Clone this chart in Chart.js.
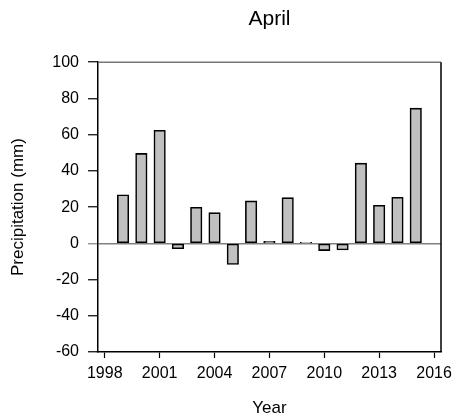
<!DOCTYPE html>
<html>

<head>
  <meta charset="utf-8">
  <title>April precipitation</title>
  <script src="https://cdnjs.cloudflare.com/ajax/libs/Chart.js/4.3.0/chart.umd.min.js"></script>
  <style>
    html,
    body {
      margin: 0;
      padding: 0;
      background: #fff;
    }

    canvas {
      display: block;
    }
  </style>
</head>

<body>
  <canvas id="chartJSContainer" width="456" height="417"></canvas>
  <script>
    // April precipitation by year (mm)
    var years = [1999, 2000, 2001, 2002, 2003, 2004, 2005, 2006, 2007, 2008, 2009, 2010, 2011, 2012, 2013, 2014, 2015];
    var precip = [26.8, 49.6, 62.4, -2.9, 19.9, 16.9, -11.6, 23.4, 1.0, 25.2, 0.5, -4.0, -3.6, 44.2, 21.0, 25.4, 74.6];
    var yearTicks = [1998, 2001, 2004, 2007, 2010, 2013, 2016];
    var precipTicks = [-60, -40, -20, 0, 20, 40, 60, 80, 100];

    var font = 'Liberation Sans, Arial, sans-serif';

    // top (grey) and right (black) sides of the plot frame
    var frame = {
      id: 'frame',
      afterDraw: function(chart) {
        var a = chart.chartArea, c = chart.ctx;
        c.save();
        c.lineWidth = 1.5;
        c.strokeStyle = '#777';
        c.beginPath();
        c.moveTo(a.left, a.top);
        c.lineTo(a.right, a.top);
        c.stroke();
        c.strokeStyle = '#000';
        c.beginPath();
        c.moveTo(a.right, a.top);
        c.lineTo(a.right, a.bottom);
        c.stroke();
        c.restore();
      }
    };

    var options = {
      type: 'bar',
      data: {
        datasets: [{
          data: years.map(function(y, i) { return { x: y, y: precip[i] }; }),
          backgroundColor: '#c0c0c0',
          borderColor: '#000',
          borderWidth: 1.6,
          borderSkipped: false,
          inflateAmount: 0.4,
          barPercentage: 0.62,
          categoryPercentage: 1
        }]
      },
      options: {
        responsive: false,
        animation: false,
        layout: { padding: { right: 15 } },
        plugins: {
          legend: { display: false },
          tooltip: { enabled: false },
          title: {
            display: true,
            text: 'April',
            fullSize: false,
            color: '#000',
            font: { family: font, size: 21, weight: 'normal' },
            padding: { top: 7, bottom: 30 }
          }
        },
        scales: {
          x: {
            type: 'linear',
            offset: false,
            min: 1997.63,
            max: 2016.38,
            afterBuildTicks: function(axis) {
              axis.ticks = yearTicks.map(function(v) { return { value: v }; });
            },
            afterFit: function(axis) {
              axis.height = 65;
              axis.paddingLeft = 0;
              axis.paddingRight = 0;
            },
            grid: { offset: false, drawOnChartArea: false, tickLength: 6, tickColor: '#000', tickWidth: 1.2 },
            border: { color: '#000', width: 1.5 },
            ticks: {
              color: '#000',
              padding: 6,
              maxRotation: 0,
              font: { family: font, size: 16 },
              callback: function(v) { return String(v); }
            },
            title: {
              display: true,
              text: 'Year',
              color: '#000',
              font: { family: font, size: 17 },
              padding: { top: 0, bottom: -2 }
            }
          },
          y: {
            min: -60,
            max: 100,
            afterBuildTicks: function(axis) {
              axis.ticks = precipTicks.map(function(v) { return { value: v }; });
            },
            afterFit: function(axis) { axis.width = 98; },
            grid: {
              tickLength: 10,
              tickWidth: 1.2,
              lineWidth: 1.5,
              color: function(ctx) { return ctx.tick && ctx.tick.value === 0 ? '#808080' : 'rgba(0,0,0,0)'; },
              tickColor: function(ctx) { return ctx.tick && ctx.tick.value === 0 ? '#808080' : '#000'; }
            },
            border: { color: '#000', width: 1.5 },
            ticks: {
              color: '#000',
              padding: 9,
              font: { family: font, size: 16 }
            },
            title: {
              display: true,
              text: 'Precipitation (mm)',
              color: '#000',
              font: { family: font, size: 17 },
              padding: { top: 8, bottom: 0 }
            }
          }
        }
      },
      plugins: [frame]
    };

    var ctx = document.getElementById('chartJSContainer').getContext('2d');
    window.test = new Chart(ctx, options);
  </script>
</body>

</html>
